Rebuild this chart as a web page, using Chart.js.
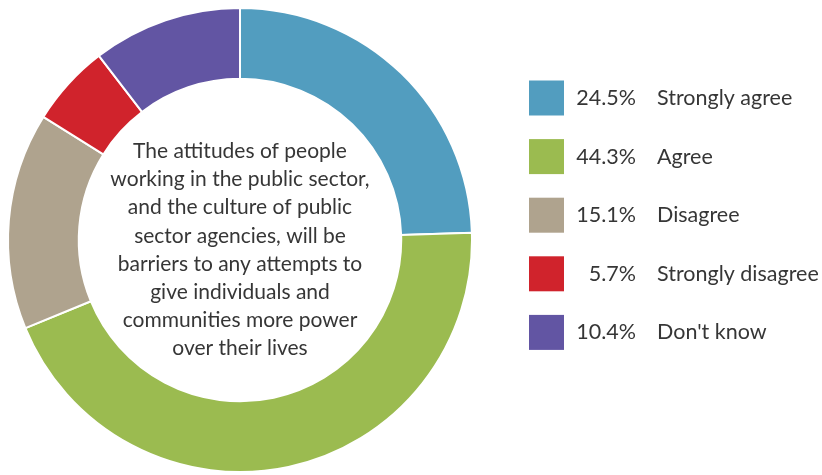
<!DOCTYPE html>
<html>
<head>
<meta charset="utf-8">
<script src="https://cdn.jsdelivr.net/npm/chart.js@4"></script>
<style>
  html, body { margin: 0; padding: 0; background: #fff; }
  #wrap { width: 822px; height: 475px; }
</style>
</head>
<body>
<div id="wrap"><canvas id="attitudesChart" width="822" height="475"></canvas></div>
<script>
  // ===== Data =====
  const categories = ["Strongly agree", "Agree", "Disagree", "Strongly disagree", "Don't know"];
  const shares = [24.5, 44.3, 15.1, 5.7, 10.4];
  const colours = ["#529dbf", "#9bbb50", "#afa38e", "#d0232c", "#6255a3"];
  const centreLines = [
    "The attitudes of people",
    "working in the public sector,",
    "and the culture of public",
    "sector agencies, will be",
    "barriers to any attempts to",
    "give individuals and",
    "communities more power",
    "over their lives"
  ];

  const FONT = "Lato, 'Open Sans', sans-serif";
  const TEXT = "#363636";

  // ===== Centre question text =====
  const centreText = {
    id: "centreText",
    afterDraw(chart) {
      const arc = chart.getDatasetMeta(0).data[0];
      if (!arc) return;
      const ctx = chart.ctx;
      const lineH = 28.2;
      // block sits a little below the ring centre
      const top = arc.y + 10 - (centreLines.length - 1) * lineH / 2;
      ctx.save();
      ctx.font = "21px " + FONT;
      ctx.fillStyle = TEXT;
      ctx.textAlign = "center";
      ctx.textBaseline = "middle";
      centreLines.forEach((line, i) => {
        ctx.fillText(line, arc.x, top + i * lineH);
      });
      ctx.restore();
    }
  };

  // ===== Legend on the right: swatch, share, label =====
  const sideLegend = {
    id: "sideLegend",
    afterDraw(chart) {
      const ctx = chart.ctx;
      const ds = chart.data.datasets[0];
      const x0 = 529, size = 35, firstY = 98, step = 58.6;
      ctx.save();
      ctx.font = "21.5px " + FONT;
      ctx.fillStyle = TEXT;
      ctx.textBaseline = "middle";
      chart.data.labels.forEach((label, i) => {
        const cy = firstY + i * step;
        ctx.fillStyle = ds.backgroundColor[i];
        ctx.fillRect(x0, cy - size / 2, size, size);
        ctx.fillStyle = TEXT;
        ctx.textAlign = "right";
        ctx.fillText(ds.data[i].toFixed(1) + "%", 636, cy);
        ctx.textAlign = "left";
        ctx.fillText(label, 657, cy);
      });
      ctx.restore();
    }
  };

  const ctx = document.getElementById("attitudesChart").getContext("2d");
  new Chart(ctx, {
    type: "doughnut",
    data: {
      labels: categories,
      datasets: [{
        data: shares,
        backgroundColor: colours,
        borderColor: "#ffffff",
        borderWidth: 2,
        hoverOffset: 0
      }]
    },
    options: {
      responsive: false,
      animation: false,
      cutout: "69.5%",
      layout: { padding: { left: 7, top: 7, right: 349, bottom: 2 } },
      events: [],
      plugins: {
        legend: { display: false },
        tooltip: { enabled: false }
      }
    },
    plugins: [centreText, sideLegend]
  });
</script>
</body>
</html>
